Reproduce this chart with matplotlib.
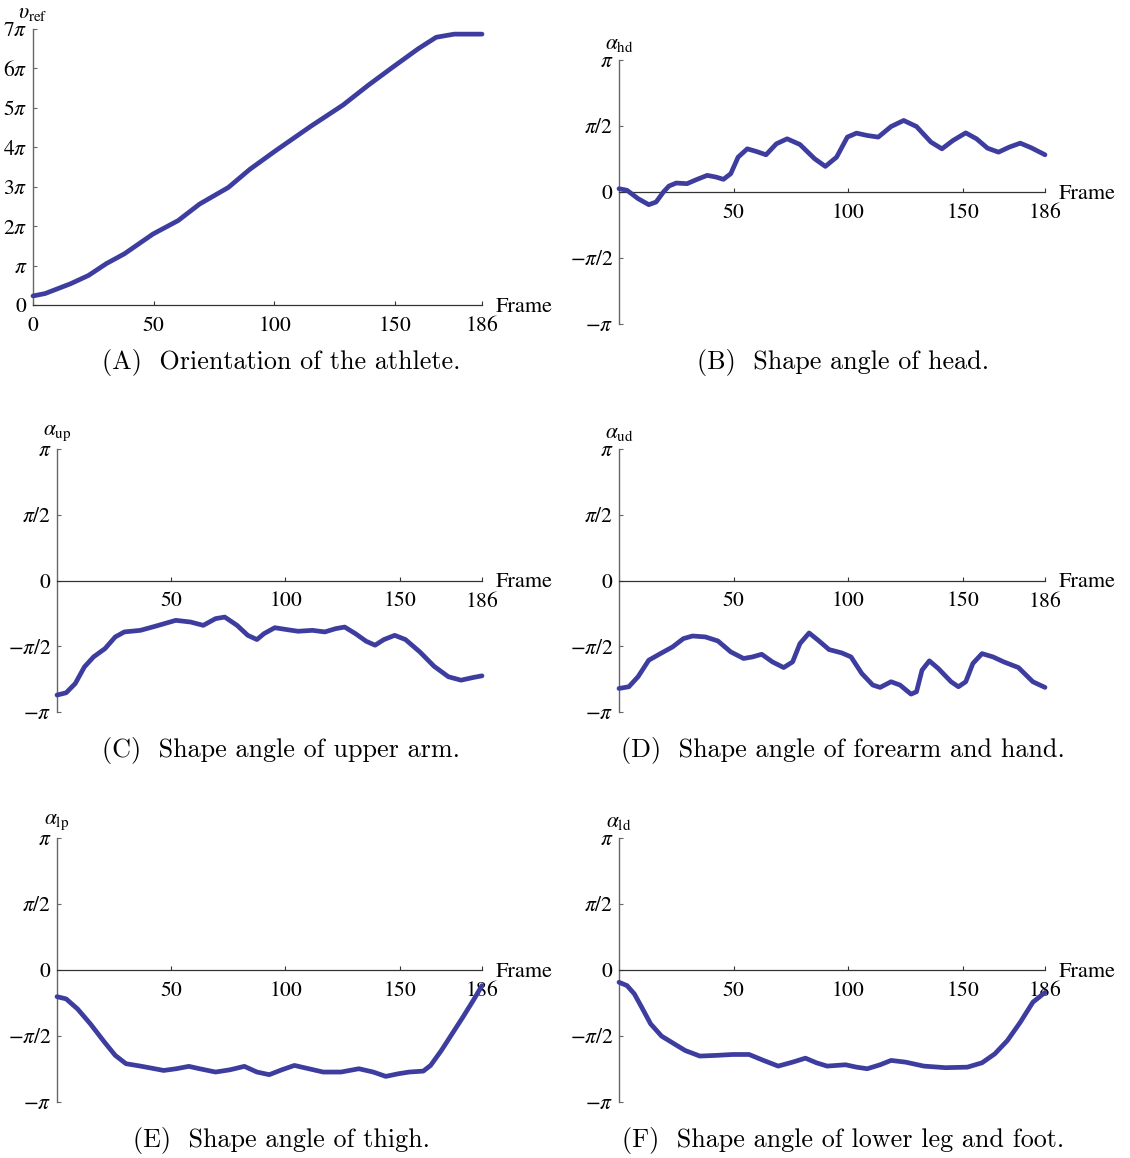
import numpy as np
import matplotlib
matplotlib.use('Agg')
import matplotlib.pyplot as plt

plt.rcParams['mathtext.fontset'] = 'stix'
plt.rcParams['font.family'] = 'STIXGeneral'

W, H = 1130, 1158
CURVE = '#3d3d9f'

# (A) orientation of the athlete, values in units of pi
orient_frames = [0, 5, 15.6, 23, 30.4, 37.9, 49.7, 60.1, 69, 80.9, 89.8, 100.2,
                 115, 128.4, 138.8, 149.2, 159.6, 167, 174.5, 186]
orient_vals = [0.23, 0.29, 0.54, 0.75, 1.05, 1.30, 1.80, 2.14, 2.56, 2.98, 3.44, 3.90,
               4.53, 5.07, 5.57, 6.04, 6.50, 6.79, 6.87, 6.87]

# (B) head
head_frames = [0, 3.5, 8.3, 13, 16.2, 19.4, 21.8, 25, 29.7, 33.7, 38.5, 42.4, 45.6, 48.8,
               52, 56, 60, 64.2, 68.7, 73.4, 79, 85.4, 90.1, 95, 99.7, 103.7, 108.4,
               113.2, 118.8, 124.3, 129.9, 136.2, 141, 145.8, 151.4, 156.1, 160.9,
               165.7, 170.4, 175.2, 180, 186]
head_vals = [0.025, 0.013, -0.05, -0.096, -0.076, 0.0, 0.045, 0.068, 0.063, 0.093, 0.126,
             0.113, 0.096, 0.139, 0.264, 0.327, 0.307, 0.282, 0.365, 0.403, 0.360, 0.252,
             0.194, 0.264, 0.416, 0.446, 0.428, 0.416, 0.496, 0.542, 0.496, 0.378, 0.327,
             0.390, 0.448, 0.403, 0.332, 0.302, 0.340, 0.370, 0.335, 0.282]

# (C) upper arm
uarm_frames = [0, 4, 8, 12, 16, 21, 25.5, 29.5, 36.5, 43, 52, 58.5, 64, 69.4, 73.4, 78.8,
               83.5, 87.5, 90.6, 95.3, 100.8, 105.5, 111.8, 117.2, 122, 125.9, 130.6,
               135.3, 139.2, 143.1, 147.8, 152.5, 158.8, 165, 171.3, 176.8, 182.3, 186]
uarm_vals = [-0.871, -0.854, -0.783, -0.657, -0.581, -0.518, -0.429, -0.391, -0.379,
             -0.348, -0.303, -0.316, -0.341, -0.290, -0.278, -0.341, -0.417, -0.449,
             -0.404, -0.359, -0.374, -0.386, -0.379, -0.391, -0.366, -0.354, -0.404,
             -0.462, -0.492, -0.449, -0.417, -0.449, -0.543, -0.652, -0.732, -0.758,
             -0.737, -0.725]

# (D) forearm and hand
farm_frames = [0, 4.3, 8.3, 13, 18.6, 23.4, 28.1, 32.1, 37.7, 43.2, 48.8, 54.4, 58.3,
               62.3, 67, 71.9, 75.8, 79, 83, 87, 91.7, 97.3, 101.3, 106, 110.8, 114,
               118.8, 122.7, 127.5, 129.9, 132.3, 135.5, 139.4, 145, 148.2, 151.4,
               154.5, 158.5, 163.3, 168, 174.4, 180.7, 186]
farm_vals = [-0.821, -0.808, -0.732, -0.606, -0.551, -0.505, -0.442, -0.422, -0.429,
             -0.460, -0.543, -0.593, -0.581, -0.561, -0.619, -0.662, -0.619, -0.480,
             -0.399, -0.455, -0.525, -0.551, -0.581, -0.707, -0.795, -0.813, -0.770,
             -0.795, -0.864, -0.846, -0.682, -0.611, -0.669, -0.770, -0.808, -0.770,
             -0.631, -0.556, -0.581, -0.619, -0.662, -0.770, -0.813]

# (E) thigh
thigh_frames = [0, 4, 9, 14.6, 20.8, 25.5, 30.2, 36.5, 41.2, 46.7, 52.2, 57.7, 62.4,
                69.4, 75.7, 82, 87.5, 92.9, 98.4, 103.9, 110.2, 116.5, 124.3, 132.1,
                138.4, 143.9, 149.4, 154.1, 160.3, 163.5, 168.2, 172.9, 177.6, 182.3, 186]
thigh_vals = [-0.202, -0.219, -0.295, -0.408, -0.547, -0.647, -0.710, -0.728, -0.743,
              -0.761, -0.748, -0.730, -0.748, -0.773, -0.756, -0.730, -0.773, -0.793,
              -0.756, -0.723, -0.748, -0.773, -0.773, -0.748, -0.773, -0.806, -0.786,
              -0.773, -0.766, -0.723, -0.610, -0.484, -0.358, -0.227, -0.118]

# (F) lower leg and foot
lleg_frames = [0, 3.5, 6.7, 9.9, 13.8, 18.6, 23.4, 28.9, 35.3, 42.4, 49.6, 56.8, 63.1,
               69.5, 75.8, 81.4, 86.2, 90.9, 98.9, 103.7, 108.4, 114, 118.8, 125.1,
               133.1, 142.6, 152.1, 158.5, 164.1, 169.6, 175.2, 180.7, 186]
lleg_vals = [-0.093, -0.118, -0.181, -0.282, -0.408, -0.501, -0.552, -0.610, -0.652,
             -0.647, -0.640, -0.640, -0.685, -0.728, -0.698, -0.668, -0.703, -0.728,
             -0.718, -0.736, -0.748, -0.718, -0.685, -0.698, -0.728, -0.740, -0.736,
             -0.703, -0.635, -0.534, -0.396, -0.244, -0.17]

angle_ticks = [-1, -0.5, 0, 0.5, 1]
angle_labels = [r'$-\pi$', r'$-\pi/2$', r'$0$', r'$\pi/2$', r'$\pi$']
orient_ticks = list(range(8))
orient_labels = [r'$0$', r'$\pi$'] + [r'$%d\pi$' % k for k in range(2, 8)]

panels = [
    # frames, values, y label, caption, (axis x px, end x px, top px, bottom px), caption centre px
    (orient_frames, orient_vals, r'$\upsilon_{\rm ref}$', '(A)  Orientation of the athlete.',
     (33, 482, 29, 305), (281, 362)),
    (head_frames, head_vals, r'$\alpha_{\rm hd}$', '(B)  Shape angle of head.',
     (619, 1045, 60, 324), (843, 362)),
    (uarm_frames, uarm_vals, r'$\alpha_{\rm up}$', '(C)  Shape angle of upper arm.',
     (57, 482, 449, 712), (281, 750)),
    (farm_frames, farm_vals, r'$\alpha_{\rm ud}$', '(D)  Shape angle of forearm and hand.',
     (619, 1045, 449, 712), (843, 750)),
    (thigh_frames, thigh_vals, r'$\alpha_{\rm lp}$', '(E)  Shape angle of thigh.',
     (57, 482, 838, 1102), (281, 1140)),
    (lleg_frames, lleg_vals, r'$\alpha_{\rm ld}$', '(F)  Shape angle of lower leg and foot.',
     (619, 1045, 838, 1102), (843, 1140)),
]

fig = plt.figure(figsize=(W / 100, H / 100), dpi=100)

for i, (fr, vals, ylab, caption, box, cap) in enumerate(panels):
    x0, x1, top, bot = box
    ax = fig.add_axes([x0 / W, (H - bot) / H, (x1 - x0) / W, (bot - top) / H])
    ax.plot(fr, np.array(vals) * np.pi, color=CURVE, lw=3.4,
            solid_capstyle='round', solid_joinstyle='round', clip_on=False, zorder=3)
    ax.set_xlim(0, 186)
    for s in ['top', 'right']:
        ax.spines[s].set_visible(False)
    ax.spines['left'].set_color('#666666')
    ax.spines['bottom'].set_color('#333333')
    ax.spines['left'].set_linewidth(1.0)
    ax.spines['bottom'].set_linewidth(0.9)

    if i == 0:
        ax.set_ylim(0, 7 * np.pi)
        ax.set_yticks(np.array(orient_ticks) * np.pi)
        ax.set_yticklabels(orient_labels)
        ax.set_xticks([0, 50, 100, 150, 186])
        ax.set_xticklabels([r'$0$', r'$50$', r'$100$', r'$150$', r'$186$'])
    else:
        ax.set_ylim(-np.pi, np.pi)
        ax.spines['bottom'].set_position(('data', 0))
        ax.set_yticks(np.array(angle_ticks) * np.pi)
        ax.set_yticklabels(angle_labels)
        ax.set_xticks([50, 100, 150, 186])
        ax.set_xticklabels([r'$50$', r'$100$', r'$150$', r'$186$'])

    ax.tick_params(axis='y', direction='in', length=3, width=0.8, color='#666666',
                   pad=4, labelsize=15.5)
    ax.tick_params(axis='x', direction='in', length=3, width=0.8, color='#333333',
                   pad=8, labelsize=15.5)
    ax.patch.set_visible(False)

    ax.annotate(ylab, xy=(0, 1), xycoords='axes fraction', xytext=(0, 4),
                textcoords='offset points', ha='center', va='bottom', fontsize=15.5)
    ax.annotate('Frame', xy=(186, 0), xycoords='data', xytext=(10, -1.5),
                textcoords='offset points', ha='left', va='center', fontsize=16)

    fig.text(cap[0] / W, 1 - cap[1] / H, caption, family='cmr10', fontsize=18.8,
             ha='center', va='center')

fig.savefig('out.png', dpi=100)
